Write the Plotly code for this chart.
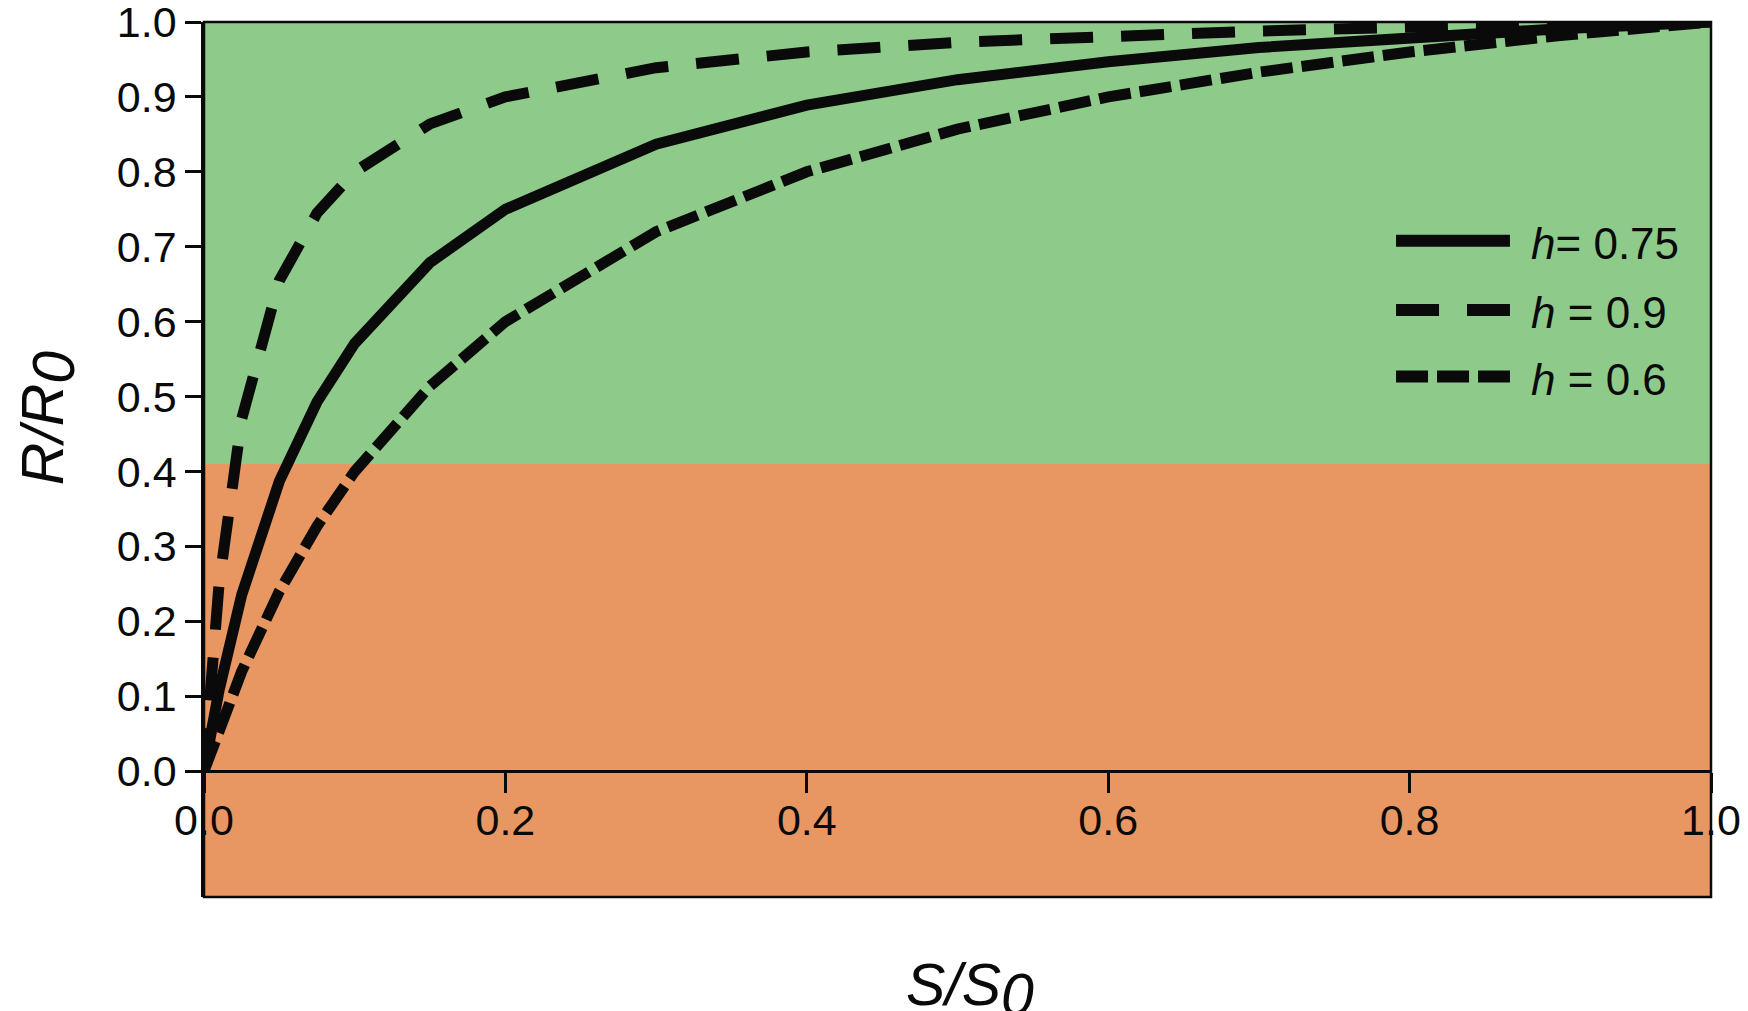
import plotly.graph_objects as go

# ---------------- data ----------------
S_RATIO = [0, 0.01, 0.025, 0.05, 0.075, 0.1, 0.15, 0.2, 0.3, 0.4, 0.5, 0.6, 0.7, 0.8, 0.9, 1.0]
R_H075 = [0, 0.108, 0.235, 0.387, 0.493, 0.571, 0.679, 0.75, 0.837, 0.889, 0.923, 0.947, 0.966, 0.98, 0.991, 1.0]
R_H090 = [0, 0.25, 0.47, 0.655, 0.745, 0.80, 0.864, 0.90, 0.939, 0.96, 0.973, 0.982, 0.988, 0.993, 0.997, 1.0]
R_H060 = [0, 0.057, 0.133, 0.24, 0.327, 0.40, 0.514, 0.60, 0.72, 0.80, 0.857, 0.90, 0.933, 0.96, 0.982, 1.0]

SERIES_NAMES = ["<i>h</i>= 0.75", "<i>h</i> = 0.9", "<i>h</i> = 0.6"]
THRESHOLD = 0.41
Y_MIN = -0.168

X_TICKS = [0, 0.2, 0.4, 0.6, 0.8, 1.0]
X_LABELS = ["0.0", "0.2", "0.4", "0.6", "0.8", "1.0"]
Y_TICKS = [0, 0.1, 0.2, 0.3, 0.4, 0.5, 0.6, 0.7, 0.8, 0.9, 1.0]
Y_LABELS = ["0.0", "0.1", "0.2", "0.3", "0.4", "0.5", "0.6", "0.7", "0.8", "0.9", "1.0"]

X_TITLE = ("S/S", "0")
Y_TITLE = ("R/R", "0")

# ---------------- style ----------------
FONT = "Liberation Sans, Arial, Helvetica, sans-serif"
GREEN = "#8ECB8A"
ORANGE = "#E89762"
INK = "#0a0a0a"
DASHES = ["solid", "43px,28px", "32px,9px"]
LINE_W = 11
TICK_FS = 43
LEG_FS = 44
TITLE_FS = 59

fig = go.Figure()
for name, vals, dash in zip(SERIES_NAMES, [R_H075, R_H090, R_H060], DASHES):
    fig.add_trace(go.Scatter(
        x=S_RATIO, y=vals, mode="lines", name=name, showlegend=False,
        line=dict(color=INK, width=LINE_W, dash=dash),
    ))

shapes = [
    dict(type="rect", xref="x", yref="y", x0=0, x1=1, y0=THRESHOLD, y1=1,
         fillcolor=GREEN, line=dict(width=0), layer="below"),
    dict(type="rect", xref="paper", yref="paper", x0=0, x1=1, y0=0, y1=1,
         line=dict(color=INK, width=2.5), layer="above"),
]

# manual legend (long line samples like the original)
LEG_X0, LEG_X1, LEG_TX = 0.791, 0.8666, 0.879
LEG_ROWS = [0.750, 0.671, 0.595]
annotations = []
for name, dash, yr in zip(SERIES_NAMES, DASHES, LEG_ROWS):
    shapes.append(dict(type="line", xref="paper", yref="paper", x0=LEG_X0, x1=LEG_X1,
                       y0=yr, y1=yr, line=dict(color=INK, width=12, dash=dash)))
    annotations.append(dict(xref="paper", yref="paper", x=LEG_TX, y=yr - 0.003,
                            xanchor="left", yanchor="middle", showarrow=False,
                            text=name, font=dict(family=FONT, size=LEG_FS, color=INK)))

title_font = dict(family=FONT, size=TITLE_FS, color=INK)
# x title: "S/S" with a lowered, full-size italic "0"
annotations.append(dict(xref="paper", yref="paper", x=0.4645, y=-0.1006,
                        xanchor="left", yanchor="middle", showarrow=False,
                        text="<i>%s</i>" % X_TITLE[0], font=title_font))
annotations.append(dict(xref="paper", yref="paper", x=0.5275, y=-0.1120,
                        xanchor="left", yanchor="middle", showarrow=False,
                        text="<i>%s</i>" % X_TITLE[1], font=title_font))
# y title (rotated): "R/R" with a lowered "0"
annotations.append(dict(xref="paper", yref="paper", x=-0.1067, y=0.529,
                        xanchor="center", yanchor="middle", showarrow=False, textangle=-90,
                        text="<i>%s</i>" % Y_TITLE[0], font=title_font))
annotations.append(dict(xref="paper", yref="paper", x=-0.1001, y=0.605,
                        xanchor="center", yanchor="middle", showarrow=False, textangle=-90,
                        text="<i>%s</i>" % Y_TITLE[1], font=title_font))

fig.update_layout(
    width=1748, height=1011,
    margin=dict(l=204, r=37, t=22, b=114, autoexpand=False),
    paper_bgcolor="white", plot_bgcolor=ORANGE,
    font=dict(family=FONT, size=TICK_FS, color=INK),
    shapes=shapes, annotations=annotations, showlegend=False,
    xaxis=dict(range=[0, 1], tickvals=X_TICKS, ticktext=X_LABELS,
               ticks="outside", ticklen=20, tickwidth=3, tickcolor=INK,
               showline=True, linecolor=INK, linewidth=2.5,
               anchor="free", position=-Y_MIN / (1 - Y_MIN),
               showgrid=False, zeroline=False, automargin=False,
               ticklabelstandoff=-9, ticklabeloverflow="allow",
               tickfont=dict(family=FONT, size=TICK_FS, color=INK)),
    yaxis=dict(range=[Y_MIN, 1], tickvals=Y_TICKS, ticktext=Y_LABELS,
               ticks="outside", ticklen=16, tickwidth=2.5, tickcolor=INK,
               showline=True, linecolor=INK, linewidth=2.5,
               showgrid=False, zeroline=False, automargin=False,
               ticklabeloverflow="allow",
               tickfont=dict(family=FONT, size=TICK_FS, color=INK)),
)

fig.write_html("out.html", config={"displayModeBar": False},
               post_script="document.body.style.margin='0';")
